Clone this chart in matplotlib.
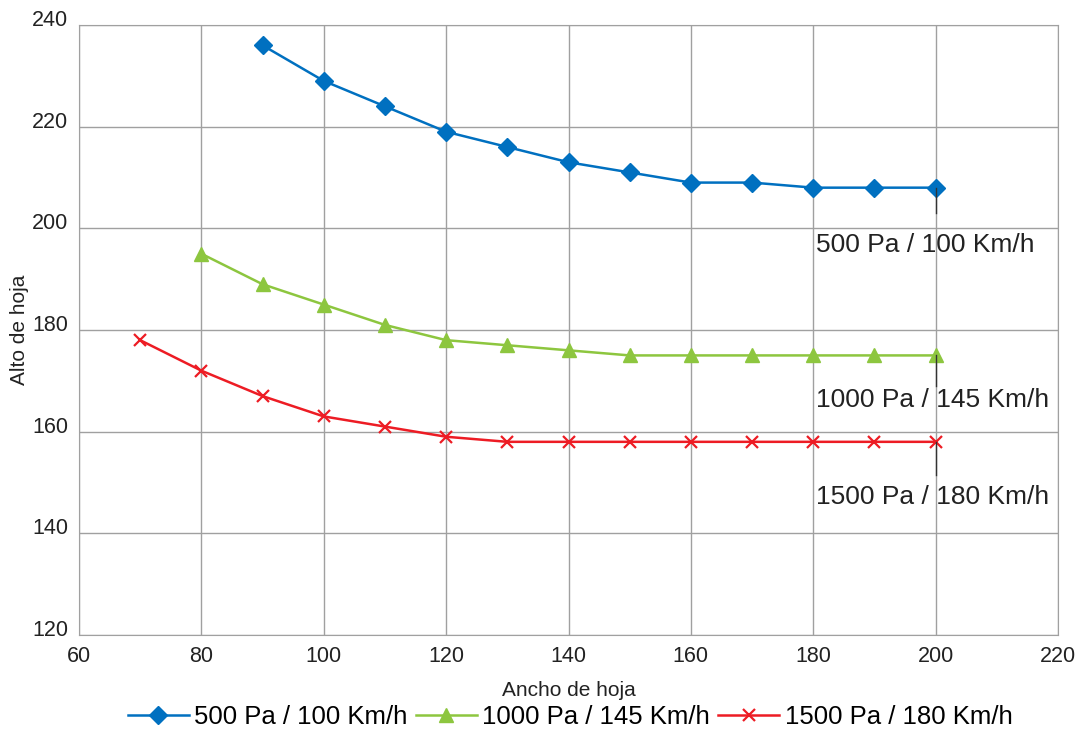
import matplotlib.pyplot as plt
from matplotlib.transforms import ScaledTranslation

plt.rcParams['font.family'] = ['Liberation Sans', 'DejaVu Sans']

# data
ancho_500 = [90, 100, 110, 120, 130, 140, 150, 160, 170, 180, 190, 200]
alto_500 = [236, 229, 224, 219, 216, 213, 211, 209, 209, 208, 208, 208]
ancho_1000 = [80, 90, 100, 110, 120, 130, 140, 150, 160, 170, 180, 190, 200]
alto_1000 = [195, 189, 185, 181, 178, 177, 176, 175, 175, 175, 175, 175, 175]
ancho_1500 = [70, 80, 90, 100, 110, 120, 130, 140, 150, 160, 170, 180, 190, 200]
alto_1500 = [178, 172, 167, 163, 161, 159, 158, 158, 158, 158, 158, 158, 158, 158]
etiquetas = ['500 Pa / 100 Km/h', '1000 Pa / 145 Km/h', '1500 Pa / 180 Km/h']

fig = plt.figure(figsize=(10.79, 7.32), dpi=100)
ax = fig.add_axes([79/1079, 1 - 635/732, (1058-79)/1079, (635-25)/732])

ax.plot(ancho_500, alto_500, color='#0070C0', marker='D', markersize=9, lw=1.8, label=etiquetas[0])
ax.plot(ancho_1000, alto_1000, color='#8DC63F', marker='^', markersize=10, lw=1.8, label=etiquetas[1])
ax.plot(ancho_1500, alto_1500, color='#ED1C24', marker='x', markersize=9, mew=1.6, lw=1.8, label=etiquetas[2])

# leader lines and labels at the end of each curve
ax.plot([200, 200], [alto_500[-1], 203], color='#333333', lw=1)
ax.plot([200, 200], [alto_1000[-1], 169], color='#333333', lw=1)
ax.plot([200, 200], [alto_1500[-1], 151.5], color='#333333', lw=1)
ax.text(180.5, 196.7, etiquetas[0], fontsize=19, va='center', color='#222222')
ax.text(180.5, 166.2, etiquetas[1], fontsize=19, va='center', color='#222222')
ax.text(180.5, 147.1, etiquetas[2], fontsize=19, va='center', color='#222222')

ax.set_xlim(60, 220)
ax.set_ylim(120, 240)
ax.set_xticks(range(60, 221, 20))
ax.set_yticks(range(120, 241, 20))
ax.grid(True, color='#A0A0A0', lw=1)
ax.set_axisbelow(True)
for s in ax.spines.values():
    s.set_color('#A0A0A0')
ax.tick_params(length=0, labelsize=15.5, colors='#222222', pad=8)
for lab in ax.get_yticklabels():
    lab.set_transform(lab.get_transform() + ScaledTranslation(0, 5/72, fig.dpi_scale_trans))

ax.set_xlabel('Ancho de hoja', fontsize=15, color='#222222', labelpad=10)
ax.set_ylabel('Alto de hoja', fontsize=15, color='#222222', labelpad=2)

fig.legend(loc='center', bbox_to_anchor=(570/1079, 1 - 717/732), ncol=3, frameon=False,
           fontsize=18.5, handlelength=2.4, columnspacing=0.3, handletextpad=0.2, borderpad=0)

fig.savefig('out.png', dpi=100)
